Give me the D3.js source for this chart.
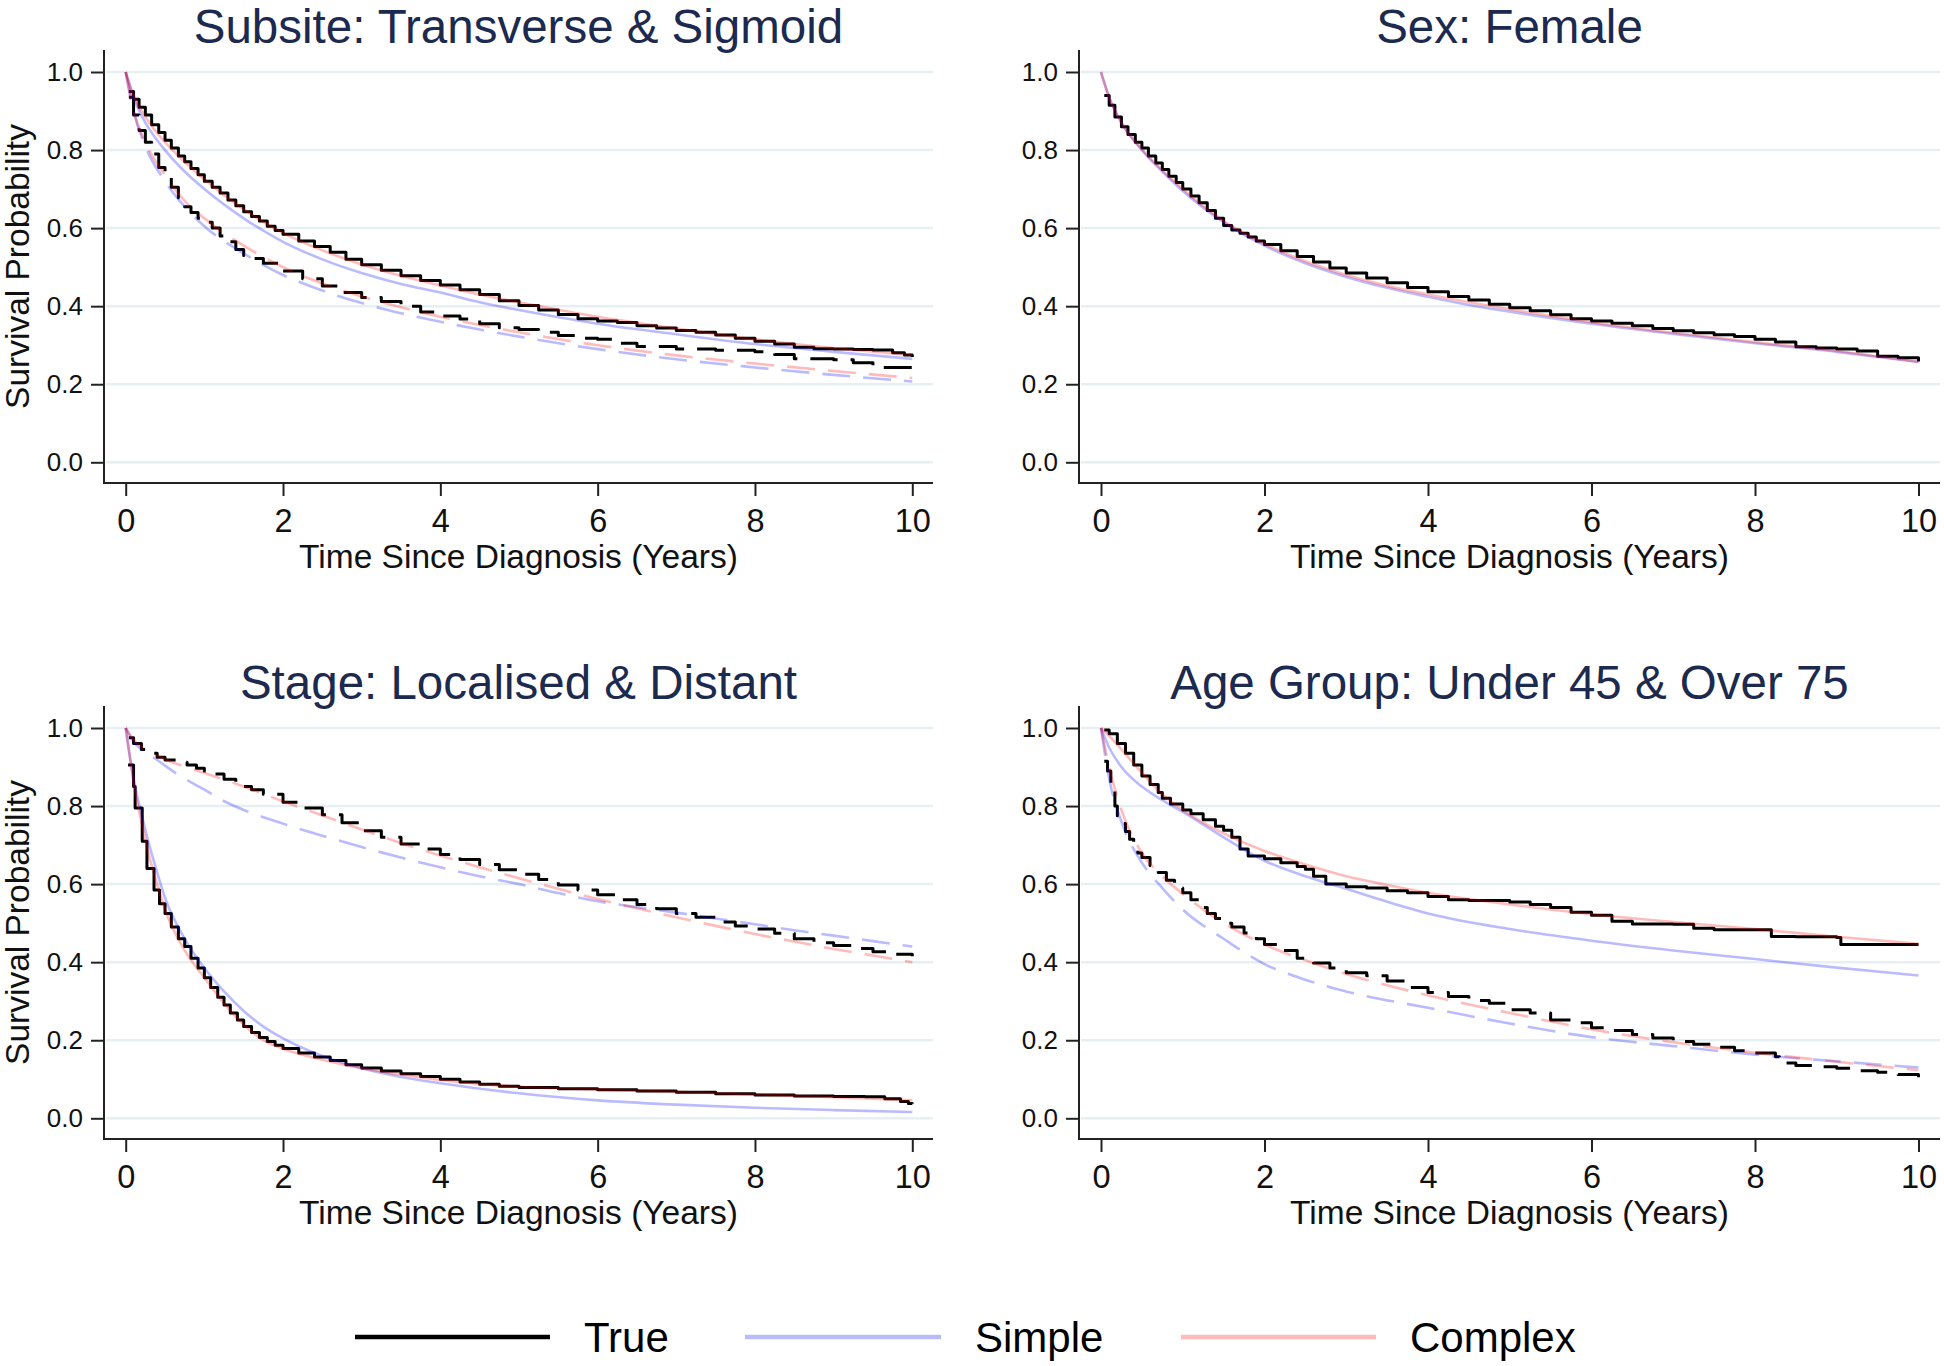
<!DOCTYPE html>
<html><head><meta charset="utf-8">
<script src="https://cdn.jsdelivr.net/npm/d3@7"></script>
<style>
body{margin:0;background:#fff}
svg{display:block}
text{font-family:"Liberation Sans",Arial,sans-serif}
</style>
</head><body>
<svg id="chart" width="1944" height="1366"></svg>
<script>
// ---------------- DATA ----------------
const timeTicks = [0, 2, 4, 6, 8, 10];
const survTicks = [0, 0.2, 0.4, 0.6, 0.8, 1.0];
const panelTitles = ["Subsite: Transverse & Sigmoid", "Sex: Female", "Stage: Localised & Distant", "Age Group: Under 45 & Over 75"];
const xTitle = "Time Since Diagnosis (Years)";
const yTitle = "Survival Probability";
const legendNames = ["True", "Simple", "Complex"];

// Panel 1: Subsite (solid = group A, dashed = group B)
const subsiteTrueA = [[0.04,0.95],[0.1,0.93],[0.17,0.91],[0.25,0.89],[0.33,0.865],[0.42,0.845],[0.5,0.825],[0.58,0.805],[0.67,0.785],[0.75,0.77],[0.83,0.753],[0.92,0.737],[1.0,0.72],[1.1,0.705],[1.2,0.69],[1.3,0.672],[1.4,0.657],[1.5,0.642],[1.6,0.63],[1.7,0.618],[1.8,0.605],[1.9,0.594],[2.0,0.584],[2.2,0.567],[2.4,0.553],[2.6,0.538],[2.8,0.52],[3.0,0.506],[3.25,0.492],[3.5,0.478],[3.75,0.466],[4.0,0.454],[4.25,0.442],[4.5,0.43],[4.75,0.414],[5.0,0.402],[5.25,0.39],[5.5,0.379],[5.75,0.368],[6.0,0.362],[6.25,0.358],[6.5,0.35],[6.75,0.344],[7.0,0.338],[7.25,0.333],[7.5,0.326],[7.75,0.318],[8.0,0.31],[8.25,0.303],[8.5,0.295],[8.75,0.291],[9.0,0.29],[9.25,0.289],[9.5,0.288],[9.75,0.281],[9.9,0.275],[10,0.27]];
const subsiteSimpleA = [[0,1],[0.1,0.935],[0.25,0.87],[0.5,0.8],[0.75,0.745],[1,0.7],[1.5,0.625],[2,0.565],[2.5,0.52],[3,0.485],[3.5,0.457],[4,0.435],[4.5,0.41],[5,0.39],[6,0.355],[7,0.328],[8,0.303],[9,0.283],[10,0.265]];
const subsiteComplexA = [[0,1],[0.1,0.94],[0.25,0.885],[0.5,0.82],[0.75,0.77],[1,0.725],[1.5,0.648],[2,0.588],[2.5,0.543],[3,0.507],[3.5,0.478],[4,0.453],[4.5,0.43],[5,0.41],[6,0.373],[7,0.343],[8,0.315],[9,0.293],[10,0.275]];
const subsiteTrueB = [[0.04,0.935],[0.1,0.89],[0.17,0.85],[0.25,0.82],[0.33,0.79],[0.42,0.755],[0.5,0.73],[0.58,0.705],[0.67,0.678],[0.75,0.655],[0.83,0.64],[0.92,0.625],[1.0,0.615],[1.1,0.6],[1.2,0.58],[1.3,0.565],[1.4,0.545],[1.5,0.53],[1.6,0.522],[1.75,0.51],[2.0,0.49],[2.25,0.47],[2.5,0.452],[2.75,0.435],[3.0,0.422],[3.25,0.412],[3.5,0.4],[3.75,0.385],[4.0,0.375],[4.25,0.367],[4.5,0.355],[4.75,0.345],[5.0,0.34],[5.25,0.333],[5.5,0.325],[5.75,0.318],[6.0,0.315],[6.25,0.305],[6.5,0.297],[7.0,0.29],[7.5,0.287],[8.0,0.283],[8.25,0.276],[8.5,0.265],[9.0,0.263],[9.25,0.255],[9.5,0.243],[10,0.24]];
const subsiteSimpleB = [[0,1],[0.1,0.9],[0.25,0.81],[0.5,0.72],[0.75,0.655],[1,0.605],[1.5,0.535],[2,0.48],[2.5,0.44],[3,0.408],[3.5,0.382],[4,0.36],[4.5,0.34],[5,0.322],[6,0.29],[7,0.264],[8,0.243],[9,0.224],[10,0.207]];
const subsiteComplexB = [[0,1],[0.1,0.9],[0.25,0.82],[0.5,0.735],[0.75,0.67],[1,0.625],[1.5,0.555],[2,0.5],[2.5,0.458],[3,0.425],[3.5,0.397],[4,0.373],[4.5,0.352],[5,0.333],[6,0.3],[7,0.274],[8,0.253],[9,0.234],[10,0.216]];

// Panel 2: Sex (Female only)
const sexTrue = [[0.04,0.94],[0.1,0.915],[0.17,0.885],[0.25,0.86],[0.33,0.84],[0.42,0.82],[0.5,0.805],[0.58,0.785],[0.67,0.767],[0.75,0.75],[0.83,0.733],[0.92,0.717],[1.0,0.7],[1.1,0.682],[1.2,0.665],[1.3,0.645],[1.4,0.625],[1.5,0.607],[1.6,0.595],[1.7,0.587],[1.8,0.577],[1.9,0.567],[2.0,0.558],[2.2,0.542],[2.4,0.527],[2.6,0.513],[2.8,0.498],[3.0,0.485],[3.25,0.472],[3.5,0.46],[3.75,0.448],[4.0,0.437],[4.25,0.425],[4.5,0.416],[4.75,0.405],[5.0,0.396],[5.25,0.388],[5.5,0.378],[5.75,0.368],[6.0,0.362],[6.25,0.356],[6.5,0.35],[6.75,0.343],[7.0,0.337],[7.25,0.332],[7.5,0.327],[7.75,0.322],[8.0,0.315],[8.25,0.308],[8.5,0.296],[8.75,0.293],[9.0,0.29],[9.25,0.285],[9.5,0.272],[9.75,0.268],[10,0.258]];
const sexSimple = [[0,1],[0.1,0.935],[0.25,0.87],[0.5,0.8],[0.75,0.745],[1,0.695],[1.5,0.615],[2,0.555],[2.5,0.51],[3,0.475],[3.5,0.447],[4,0.424],[4.5,0.403],[5,0.386],[6,0.355],[7,0.329],[8,0.305],[9,0.283],[10,0.257]];
const sexComplex = [[0,1],[0.1,0.935],[0.25,0.87],[0.5,0.802],[0.75,0.748],[1,0.7],[1.5,0.618],[2,0.56],[2.5,0.515],[3,0.48],[3.5,0.452],[4,0.43],[4.5,0.41],[5,0.392],[6,0.359],[7,0.332],[8,0.308],[9,0.285],[10,0.257]];

// Panel 3: Stage (solid = Distant, dashed = Localised)
const stageTrueA = [[0.03,0.905],[0.1,0.85],[0.12,0.795],[0.21,0.71],[0.27,0.64],[0.36,0.585],[0.43,0.55],[0.5,0.525],[0.58,0.49],[0.67,0.46],[0.75,0.44],[0.83,0.41],[0.92,0.385],[1.0,0.36],[1.08,0.335],[1.17,0.31],[1.25,0.29],[1.33,0.27],[1.42,0.252],[1.5,0.235],[1.6,0.22],[1.7,0.207],[1.8,0.197],[1.9,0.187],[2.0,0.179],[2.2,0.167],[2.4,0.157],[2.6,0.148],[2.8,0.137],[3.0,0.129],[3.25,0.121],[3.5,0.114],[3.75,0.107],[4.0,0.1],[4.25,0.093],[4.5,0.087],[4.75,0.082],[5.0,0.079],[5.5,0.076],[6.0,0.073],[6.5,0.07],[7.0,0.067],[7.5,0.063],[8.0,0.06],[8.5,0.057],[9.0,0.056],[9.4,0.055],[9.65,0.05],[9.85,0.043],[9.95,0.038],[10,0.037]];
const stageSimpleA = [[0,1],[0.05,0.93],[0.1,0.87],[0.2,0.78],[0.3,0.7],[0.4,0.63],[0.5,0.565],[0.75,0.46],[1,0.385],[1.25,0.325],[1.5,0.275],[1.75,0.235],[2,0.205],[2.5,0.16],[3,0.128],[3.5,0.106],[4,0.09],[5,0.064],[6,0.046],[7,0.035],[8,0.027],[9,0.021],[10,0.016]];
const stageComplexA = [[0,1],[0.05,0.93],[0.1,0.86],[0.2,0.76],[0.3,0.67],[0.4,0.6],[0.5,0.535],[0.75,0.43],[1,0.36],[1.25,0.295],[1.5,0.24],[1.75,0.2],[2,0.178],[2.5,0.15],[3,0.128],[3.5,0.112],[4,0.098],[4.5,0.088],[5,0.081],[6,0.074],[7,0.068],[8,0.061],[9,0.054],[10,0.046]];
const stageTrueB = [[0.04,0.975],[0.1,0.96],[0.2,0.945],[0.28,0.935],[0.4,0.925],[0.5,0.918],[0.65,0.912],[0.78,0.905],[0.9,0.897],[1.0,0.89],[1.1,0.882],[1.25,0.869],[1.4,0.858],[1.5,0.85],[1.6,0.842],[1.75,0.83],[2.0,0.81],[2.25,0.795],[2.5,0.778],[2.75,0.757],[3.0,0.737],[3.25,0.72],[3.5,0.703],[3.75,0.69],[4.0,0.676],[4.25,0.663],[4.5,0.65],[4.75,0.637],[5.0,0.625],[5.25,0.612],[5.5,0.598],[5.75,0.585],[6.0,0.573],[6.25,0.56],[6.5,0.548],[6.75,0.537],[7.0,0.525],[7.25,0.515],[7.5,0.503],[7.75,0.493],[8.0,0.485],[8.25,0.474],[8.5,0.46],[8.75,0.45],[9.0,0.443],[9.25,0.435],[9.5,0.427],[9.75,0.42],[10,0.415]];
const stageSimpleB = [[0,1],[0.1,0.965],[0.2,0.945],[0.4,0.918],[0.7,0.876],[1,0.842],[1.2,0.818],[1.5,0.79],[2,0.755],[2.5,0.724],[3,0.695],[3.5,0.668],[4,0.643],[4.5,0.62],[5,0.6],[5.5,0.577],[6,0.556],[6.5,0.541],[7,0.527],[7.5,0.512],[8,0.497],[8.5,0.482],[9,0.468],[9.5,0.454],[10,0.44]];
const stageComplexB = [[0,1],[0.1,0.97],[0.25,0.945],[0.5,0.92],[1,0.885],[1.5,0.85],[2,0.812],[2.5,0.776],[3,0.74],[3.5,0.705],[4,0.673],[4.5,0.643],[5,0.615],[5.5,0.588],[6,0.562],[6.5,0.538],[7,0.515],[7.5,0.493],[8,0.472],[8.5,0.453],[9,0.434],[9.5,0.417],[10,0.4]];

// Panel 4: Age group (solid = Under 45, dashed = Over 75)
const ageTrueA = [[0.04,0.995],[0.1,0.985],[0.2,0.96],[0.3,0.935],[0.4,0.905],[0.5,0.877],[0.6,0.855],[0.7,0.835],[0.75,0.82],[0.85,0.805],[1.0,0.79],[1.1,0.78],[1.25,0.765],[1.4,0.748],[1.5,0.738],[1.6,0.72],[1.7,0.69],[1.8,0.672],[2.0,0.665],[2.2,0.655],[2.4,0.645],[2.5,0.638],[2.6,0.62],[2.75,0.6],[3.0,0.593],[3.25,0.59],[3.5,0.583],[3.75,0.578],[4.0,0.568],[4.25,0.56],[4.5,0.558],[5.0,0.554],[5.25,0.548],[5.5,0.54],[5.75,0.528],[6.0,0.52],[6.25,0.505],[6.5,0.498],[7.0,0.497],[7.25,0.487],[7.5,0.483],[8.0,0.483],[8.2,0.466],[8.5,0.465],[9.0,0.463],[9.05,0.445],[9.5,0.445],[10,0.445]];
const ageSimpleA = [[0,1],[0.1,0.95],[0.25,0.9],[0.5,0.85],[0.75,0.815],[1,0.785],[1.5,0.72],[2,0.66],[2.5,0.62],[3,0.588],[3.5,0.555],[4,0.525],[5,0.485],[6,0.455],[7,0.43],[8,0.408],[9,0.386],[10,0.366]];
const ageComplexA = [[0,1],[0.1,0.98],[0.25,0.945],[0.5,0.885],[0.75,0.83],[1,0.79],[1.5,0.73],[2,0.685],[2.5,0.65],[3,0.62],[3.5,0.598],[4,0.578],[4.5,0.562],[5,0.548],[5.5,0.535],[6,0.523],[7,0.503],[8,0.485],[9,0.465],[10,0.447]];
const ageTrueB = [[0.04,0.915],[0.08,0.89],[0.12,0.84],[0.17,0.8],[0.2,0.775],[0.25,0.755],[0.3,0.735],[0.35,0.715],[0.4,0.698],[0.45,0.68],[0.5,0.668],[0.6,0.648],[0.7,0.63],[0.8,0.61],[0.9,0.59],[1.0,0.578],[1.1,0.56],[1.2,0.54],[1.3,0.525],[1.4,0.512],[1.5,0.5],[1.6,0.49],[1.75,0.475],[1.9,0.46],[2.0,0.445],[2.2,0.43],[2.4,0.41],[2.6,0.398],[2.8,0.385],[3.0,0.373],[3.25,0.365],[3.5,0.352],[3.75,0.335],[4.0,0.322],[4.25,0.312],[4.5,0.302],[4.75,0.295],[5.0,0.278],[5.25,0.27],[5.5,0.252],[5.75,0.245],[6.0,0.232],[6.25,0.225],[6.5,0.215],[6.75,0.206],[7.0,0.197],[7.25,0.19],[7.5,0.182],[7.75,0.173],[8.0,0.167],[8.25,0.158],[8.3,0.142],[8.5,0.135],[8.75,0.132],[9.0,0.128],[9.25,0.122],[9.5,0.118],[9.75,0.112],[10,0.105]];
const ageSimpleB = [[0,1],[0.1,0.87],[0.25,0.76],[0.5,0.655],[0.75,0.59],[1,0.535],[1.5,0.46],[2,0.395],[2.5,0.355],[3,0.325],[4,0.283],[5,0.243],[6,0.208],[7,0.185],[8,0.163],[9,0.146],[10,0.13]];
const ageComplexB = [[0,1],[0.1,0.9],[0.25,0.79],[0.5,0.68],[0.75,0.62],[1,0.575],[1.5,0.5],[2,0.445],[2.5,0.405],[3,0.37],[4,0.315],[5,0.27],[6,0.228],[7,0.195],[8,0.168],[9,0.145],[10,0.123]];

// ---------------- LAYOUT / STYLE ----------------
const style = {
  True:    {color:"#000000", width:3,   opacity:1},
  Simple:  {color:"#0000ff", width:2.6, opacity:0.27},
  Complex: {color:"#ff0000", width:2.6, opacity:0.27}
};
const dashPattern = "28,13";
const panels = [
  {title:panelTitles[0], frame:{l:104,r:933,t:50,b:483}, xr:[125.7,912.3], yr:[462.3,72], yTitle:true,
   series:[["True",subsiteTrueA,false],["True",subsiteTrueB,true],["Simple",subsiteSimpleA,false],["Simple",subsiteSimpleB,true],["Complex",subsiteComplexA,false],["Complex",subsiteComplexB,true]]},
  {title:panelTitles[1], frame:{l:1079,r:1940,t:50,b:483}, xr:[1101,1918.5], yr:[462.3,72], yTitle:false,
   series:[["True",sexTrue,false],["Simple",sexSimple,false],["Complex",sexComplex,false]]},
  {title:panelTitles[2], frame:{l:104,r:933,t:706,b:1139}, xr:[125.7,912.3], yr:[1118.3,728], yTitle:true,
   series:[["True",stageTrueA,false],["True",stageTrueB,true],["Simple",stageSimpleA,false],["Simple",stageSimpleB,true],["Complex",stageComplexA,false],["Complex",stageComplexB,true]]},
  {title:panelTitles[3], frame:{l:1079,r:1940,t:706,b:1139}, xr:[1101,1918.5], yr:[1118.3,728], yTitle:false,
   series:[["True",ageTrueA,false],["True",ageTrueB,true],["Simple",ageSimpleA,false],["Simple",ageSimpleB,true],["Complex",ageComplexA,false],["Complex",ageComplexB,true]]}
];

const svg = d3.select("#chart");
svg.append("rect").attr("width",1944).attr("height",1366).attr("fill","#fff");

panels.forEach(p => {
  const f = p.frame;
  const x = d3.scaleLinear().domain([0,10]).range(p.xr);
  const y = d3.scaleLinear().domain([0,1]).range(p.yr);
  const g = svg.append("g");

  // gridlines
  g.selectAll(".grid").data(survTicks).enter().append("line")
    .attr("x1", f.l+2).attr("x2", f.r)
    .attr("y1", d=>y(d)).attr("y2", d=>y(d))
    .attr("stroke","#e6eff1").attr("stroke-width",2.5);

  // y axis
  const yAxis = d3.axisLeft(y).tickValues(survTicks).tickFormat(d3.format(".1f")).tickSize(13).tickPadding(8);
  const ya = g.append("g").attr("transform",`translate(${f.l},0)`).call(yAxis);
  ya.select(".domain").remove();
  ya.selectAll(".tick line").attr("stroke","#222").attr("stroke-width",2);
  ya.selectAll(".tick text").attr("font-size",26).attr("fill","#111").attr("font-family","Liberation Sans, Arial, sans-serif");
  g.append("line").attr("x1",f.l).attr("x2",f.l).attr("y1",f.t).attr("y2",f.b+1).attr("stroke","#222").attr("stroke-width",2);

  // x axis
  const xAxis = d3.axisBottom(x).tickValues(timeTicks).tickFormat(d3.format("d")).tickSize(13).tickPadding(13);
  const xa = g.append("g").attr("transform",`translate(0,${f.b})`).call(xAxis);
  xa.select(".domain").remove();
  xa.selectAll(".tick line").attr("stroke","#222").attr("stroke-width",2);
  xa.selectAll(".tick text").attr("font-size",32.5).attr("fill","#111").attr("font-family","Liberation Sans, Arial, sans-serif");
  g.append("line").attr("x1",f.l-1).attr("x2",f.r).attr("y1",f.b).attr("y2",f.b).attr("stroke","#222").attr("stroke-width",2);

  // titles
  g.append("text").attr("x",(f.l+f.r)/2).attr("y",f.t-7).attr("text-anchor","middle")
    .attr("font-size",47.5).attr("fill","#1b2a4e").text(p.title);
  g.append("text").attr("x",(f.l+f.r)/2).attr("y",f.b+85).attr("text-anchor","middle")
    .attr("font-size",33.5).attr("fill","#111").text(xTitle);
  if (p.yTitle) {
    g.append("text").attr("transform",`translate(29,${(f.t+f.b)/2}) rotate(-90)`).attr("text-anchor","middle")
      .attr("font-size",33.5).attr("fill","#111").text(yTitle);
  }

  // series
  const stepLine = d3.line().x(d=>x(d[0])).y(d=>y(d[1])).curve(d3.curveStepAfter);
  const smoothLine = d3.line().x(d=>x(d[0])).y(d=>y(d[1])).curve(d3.curveMonotoneX);
  p.series.forEach(([name, data, dashed]) => {
    const s = style[name];
    g.append("path").datum(data)
      .attr("d", name==="True" ? stepLine : smoothLine)
      .attr("fill","none").attr("stroke",s.color).attr("stroke-opacity",s.opacity)
      .attr("stroke-width",s.width).attr("stroke-linejoin","round")
      .attr("stroke-dasharray", dashed ? dashPattern : null);
  });
});

// legend
const legend = svg.append("g");
const legendItems = [
  {name:legendNames[0], x1:355, x2:550, tx:584},
  {name:legendNames[1], x1:745, x2:941, tx:975},
  {name:legendNames[2], x1:1181, x2:1376, tx:1410}
];
legendItems.forEach(it => {
  const s = style[it.name];
  legend.append("line").attr("x1",it.x1).attr("x2",it.x2).attr("y1",1337).attr("y2",1337)
    .attr("stroke",s.color).attr("stroke-opacity",s.opacity).attr("stroke-width",4.5);
  legend.append("text").attr("x",it.tx).attr("y",1352).attr("font-size",42).attr("fill","#000").text(it.name);
});
</script>
</body></html>
